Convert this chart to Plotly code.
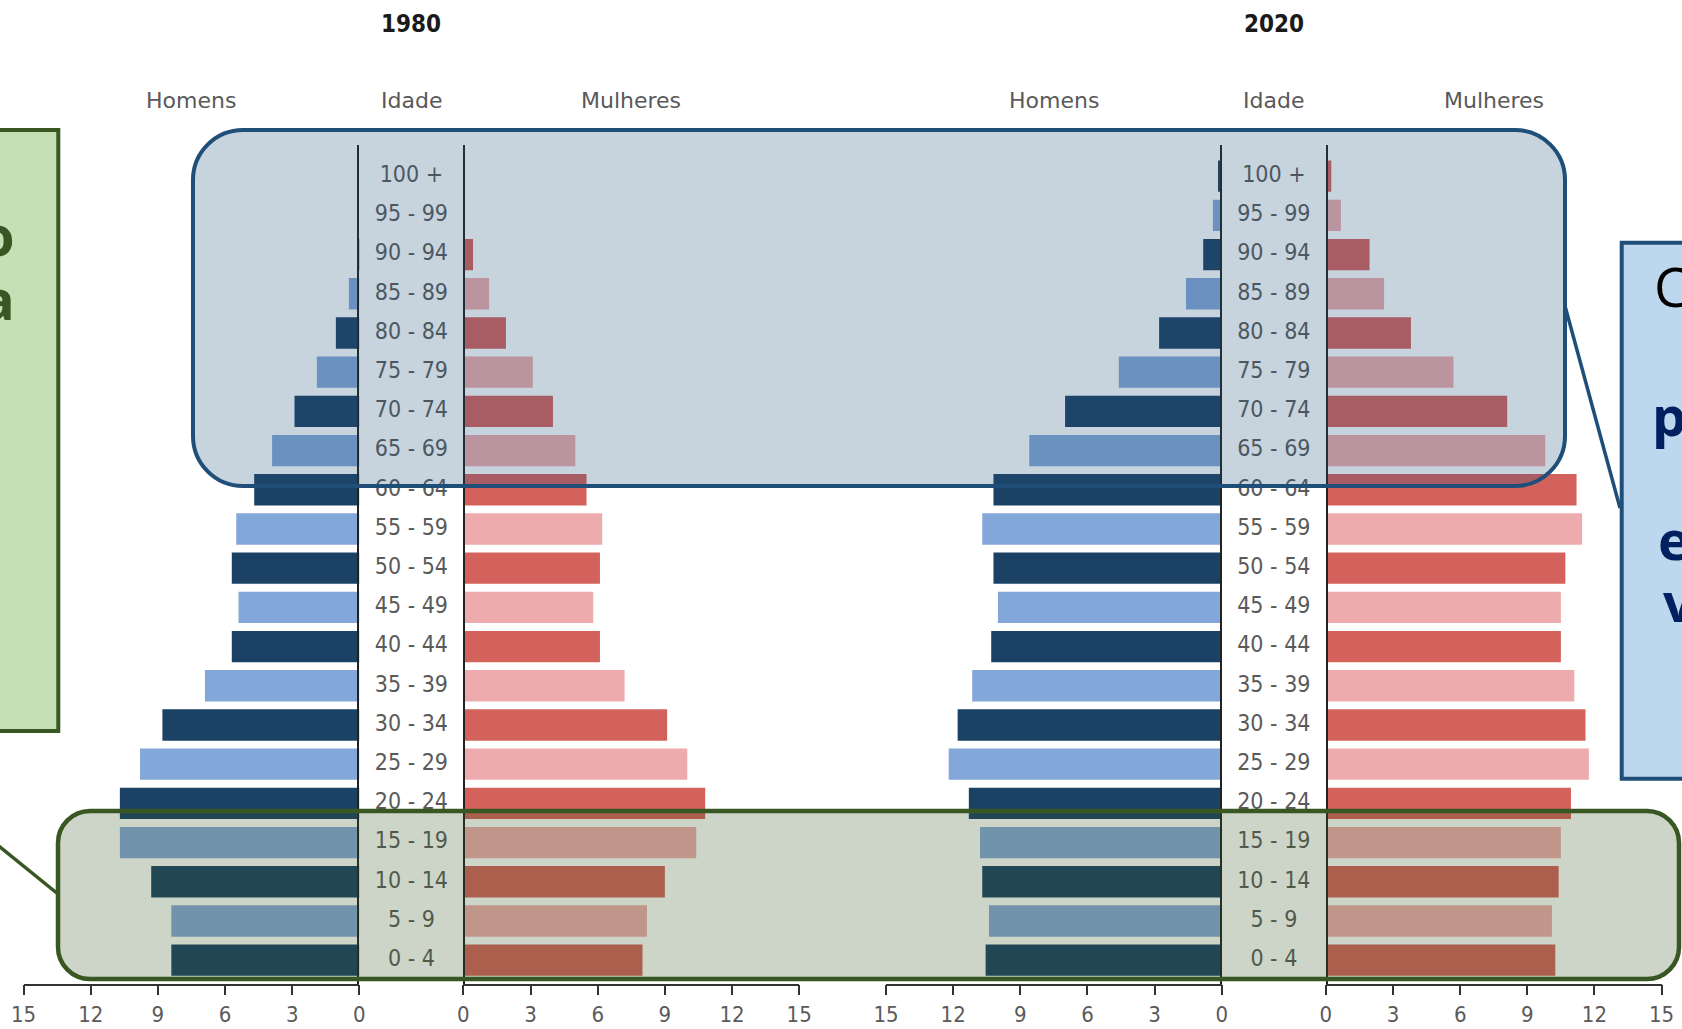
import plotly.graph_objects as go

# ---------------- data ----------------
ages = ["0 - 4", "5 - 9", "10 - 14", "15 - 19", "20 - 24", "25 - 29", "30 - 34",
        "35 - 39", "40 - 44", "45 - 49", "50 - 54", "55 - 59", "60 - 64", "65 - 69",
        "70 - 74", "75 - 79", "80 - 84", "85 - 89", "90 - 94", "95 - 99", "100 +"]

male_1980 = [8.4, 8.4, 9.3, 10.7, 10.7, 9.8, 8.8, 6.9, 5.7, 5.4, 5.7, 5.5, 4.7, 3.9,
             2.9, 1.9, 1.05, 0.47, 0.08, 0.0, 0.0]
female_1980 = [8.0, 8.2, 9.0, 10.4, 10.8, 10.0, 9.1, 7.2, 6.1, 5.8, 6.1, 6.2, 5.5, 5.0,
               4.0, 3.1, 1.9, 1.15, 0.43, 0.0, 0.0]
male_2020 = [10.55, 10.4, 10.7, 10.8, 11.3, 12.2, 11.8, 11.15, 10.3, 10.0, 10.2, 10.7,
             10.2, 8.6, 7.0, 4.6, 2.8, 1.6, 0.83, 0.4, 0.17]
female_2020 = [10.25, 10.1, 10.4, 10.5, 10.95, 11.75, 11.6, 11.1, 10.5, 10.5, 10.7,
               11.45, 11.2, 9.8, 8.1, 5.7, 3.8, 2.6, 1.95, 0.67, 0.24]

tick_vals = [0, 3, 6, 9, 12, 15]
years = ["1980", "2020"]
headers = ["Homens", "Idade", "Mulheres"]

# ---------------- styling ----------------
W, H = 1682, 1029
def px(x): return x / W
def py(y): return 1 - y / H

MALE_DARK, MALE_LIGHT = "#1b4264", "#84a7d9"
FEM_DARK, FEM_LIGHT = "#d4625c", "#eeabad"
male_colors = [MALE_DARK if i % 2 == 0 else MALE_LIGHT for i in range(len(ages))]
fem_colors = [FEM_DARK if i % 2 == 0 else FEM_LIGHT for i in range(len(ages))]

COND = "DejaVu Sans Condensed, DejaVu Sans, sans-serif"
GREY = "#5a5a5a"

ydom = [py(983.7), py(144.8)]
dom = {
    "m80": [px(23.6), px(359.4)], "c80": [px(359.4), px(463.4)], "f80": [px(463.4), px(799.2)],
    "m20": [px(886.0), px(1221.8)], "c20": [px(1221.8), px(1325.9)], "f20": [px(1325.9), px(1661.6)],
}

fig = go.Figure()

def bars(vals, colors, xa, ya):
    fig.add_trace(go.Bar(y=ages, x=vals, orientation="h", marker=dict(color=colors, line=dict(width=0)),
                         xaxis=xa, yaxis=ya, showlegend=False, hoverinfo="skip"))

bars(male_1980, male_colors, "x", "y")
bars(female_1980, fem_colors, "x2", "y")
bars(male_2020, male_colors, "x4", "y2")
bars(female_2020, fem_colors, "x5", "y2")

for xa, ya in (("x3", "y"), ("x6", "y2")):
    fig.add_trace(go.Scatter(y=ages, x=[0.5] * len(ages), mode="text", text=ages,
                             textfont=dict(family=COND, size=23, color=GREY),
                             xaxis=xa, yaxis=ya, showlegend=False, hoverinfo="skip"))

def bar_axis(domain, rng):
    return dict(domain=domain, range=rng, tickvals=tick_vals, ticktext=[str(v) for v in tick_vals],
                showline=True, linecolor="#333", linewidth=1.5, ticks="outside", ticklen=10,
                tickwidth=1.5, tickcolor="#333", showgrid=False, zeroline=False,
                tickfont=dict(family=COND, size=22, color=GREY), ticklabelstandoff=0,
                automargin=False, fixedrange=True)

def col_axis(domain):
    return dict(domain=domain, range=[0, 1], showline=False, showgrid=False, zeroline=False,
                showticklabels=False, ticks="", automargin=False, fixedrange=True)

def y_axis(anchor):
    return dict(domain=ydom, type="category", categoryorder="array", categoryarray=ages,
                range=[-0.6, 20.8], showticklabels=False, ticks="", showgrid=False,
                zeroline=False, showline=True, mirror=True, linecolor="#222", linewidth=1.5,
                anchor=anchor, automargin=False, fixedrange=True)

fig.update_layout(
    width=W, height=H, margin=dict(l=0, r=0, t=0, b=0, pad=0, autoexpand=False),
    paper_bgcolor="white", plot_bgcolor="rgba(0,0,0,0)", bargap=0.2, barmode="overlay",
    xaxis=dict(**bar_axis(dom["m80"], [15, 0]), anchor="y"),
    xaxis2=dict(**bar_axis(dom["f80"], [0, 15]), anchor="y"),
    xaxis3=dict(**col_axis(dom["c80"]), anchor="y"),
    xaxis4=dict(**bar_axis(dom["m20"], [15, 0]), anchor="y2"),
    xaxis5=dict(**bar_axis(dom["f20"], [0, 15]), anchor="y2"),
    xaxis6=dict(**col_axis(dom["c20"]), anchor="y2"),
    yaxis=y_axis("x3"),
    yaxis2=y_axis("x6"),
)

# ---------------- annotations ----------------
ann = []
for yr, xm, xc, xf in ((years[0], "x", "x3", "x2"), (years[1], "x4", "x6", "x5")):
    ann.append(dict(text="<b>" + yr + "</b>", xref=xc + " domain", x=0.5, yref="paper", y=py(23.6),
                    showarrow=False, font=dict(family=COND, size=24, color="#1a1a1a"),
                    xanchor="center", yanchor="middle"))
    for xr, txt in ((xm, headers[0]), (xc, headers[1]), (xf, headers[2])):
        ann.append(dict(text=txt, xref=xr + " domain", x=0.5, yref="paper", y=py(101),
                        showarrow=False, font=dict(family="DejaVu Sans", size=22, color="#595959"),
                        xanchor="center", yanchor="middle"))

# cut-off callout texts (only visible letters)
for txt, x, y, col, bold in (("C", 1652, 286, "#000000", False), ("p", 1650, 415, "#002060", True),
                             ("e", 1656, 539, "#002060", True), ("v", 1661, 601, "#002060", True)):
    ann.append(dict(text=("<b>%s</b>" % txt) if bold else txt, xref="paper", yref="paper",
                    x=px(x), y=py(y), xanchor="left", yanchor="middle", showarrow=False,
                    font=dict(family="Open Sans, DejaVu Sans", size=54, color=col)))
for txt, y in (("o", 234), ("a", 298)):
    ann.append(dict(text="<b>%s</b>" % txt, xref="paper", yref="paper", x=px(17), y=py(y),
                    xanchor="right", yanchor="middle", showarrow=False,
                    font=dict(family="Open Sans, DejaVu Sans", size=56, color="#375623")))
fig.update_layout(annotations=ann)

# ---------------- shapes ----------------
def rrect(x0, y0, x1, y1, r):
    k = 0.5523 * r
    P = lambda x, y: "%.5f,%.5f" % (px(x), py(y))
    return ("M" + P(x0 + r, y0) + " L" + P(x1 - r, y0) +
            " C" + P(x1 - r + k, y0) + " " + P(x1, y0 + r - k) + " " + P(x1, y0 + r) +
            " L" + P(x1, y1 - r) +
            " C" + P(x1, y1 - r + k) + " " + P(x1 - r + k, y1) + " " + P(x1 - r, y1) +
            " L" + P(x0 + r, y1) +
            " C" + P(x0 + r - k, y1) + " " + P(x0, y1 - r + k) + " " + P(x0, y1 - r) +
            " L" + P(x0, y0 + r) +
            " C" + P(x0, y0 + r - k) + " " + P(x0 + r - k, y0) + " " + P(x0 + r, y0) + " Z")

BLUE_B, GREEN_B = "#1f4e79", "#385723"
shapes = [
    # left green callout box
    dict(type="rect", xref="paper", yref="paper", x0=px(-20), x1=px(58.3), y0=py(731), y1=py(130),
         fillcolor="#c5e0b4", line=dict(color=GREEN_B, width=4), layer="above"),
    dict(type="line", xref="paper", yref="paper", x0=px(-5), y0=py(843), x1=px(58), y1=py(894),
         line=dict(color=GREEN_B, width=3.5), layer="above"),
    # right blue callout box
    dict(type="rect", xref="paper", yref="paper", x0=px(1621.7), x1=px(1720), y0=py(778.7), y1=py(242.7),
         fillcolor="#bdd7ee", line=dict(color=BLUE_B, width=4), layer="above"),
    dict(type="line", xref="paper", yref="paper", x0=px(1565), y0=py(306), x1=px(1620), y1=py(508),
         line=dict(color=BLUE_B, width=3.5), layer="above"),
    # translucent highlight rounded rectangles
    dict(type="path", xref="paper", yref="paper", path=rrect(193, 130, 1565, 486, 50),
         fillcolor="rgba(31,78,121,0.25)", line=dict(color=BLUE_B, width=4), layer="above"),
    dict(type="path", xref="paper", yref="paper", path=rrect(58, 811, 1679, 979, 32),
         fillcolor="rgba(56,87,35,0.25)", line=dict(color=GREEN_B, width=4.5), layer="above"),
]
fig.update_layout(shapes=shapes)

fig.write_html("out.html", config={"displayModeBar": False},
               post_script="document.body.style.margin='0';document.body.style.overflow='hidden';")
